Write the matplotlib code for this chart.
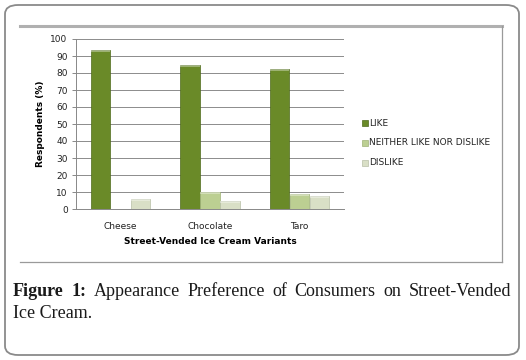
import matplotlib
matplotlib.use("Agg")
import matplotlib.pyplot as plt
import numpy as np
from matplotlib.patches import FancyBboxPatch, Rectangle
from matplotlib.lines import Line2D

categories = ["Cheese", "Chocolate", "Taro"]
series_names = ["LIKE", "NEITHER LIKE NOR DISLIKE", "DISLIKE"]
like = [93.5, 84.7, 82.5]
neither = [0, 10, 8.6]
dislike = [5.7, 4.5, 7.5]
yticks = [0, 10, 20, 30, 40, 50, 60, 70, 80, 90, 100]

W, H = 526, 360
fig = plt.figure(figsize=(W / 100, H / 100), dpi=100)
fig.patch.set_facecolor("white")

def fx(px):
    return px / W

def fy(py):
    return 1 - py / H

# outer rounded border
fig.patches.append(FancyBboxPatch((fx(5), fy(355)), fx(514), 350 / H,
                                  boxstyle="round,pad=0,rounding_size=0.025",
                                  transform=fig.transFigure, fill=False,
                                  edgecolor="#8a8a8a", linewidth=1.3))
# inner chart frame
fig.lines.append(Line2D([fx(20), fx(502)], [fy(26), fy(26)], transform=fig.transFigure,
                        color="#b0b0b0", linewidth=2.2))
fig.lines.append(Line2D([fx(502), fx(502)], [fy(26), fy(262)], transform=fig.transFigure,
                        color="#9a9a9a", linewidth=0.9))
fig.lines.append(Line2D([fx(20), fx(502)], [fy(262), fy(262)], transform=fig.transFigure,
                        color="#9a9a9a", linewidth=0.9))

ax = fig.add_axes([fx(76), fy(209), fx(344) - fx(76), 170 / H])
x = np.arange(len(categories))
bw = 0.224
colors = ["#6a8a28", "#bccf92", "#d9dfc6"]
edges = ["#4f6a1c", "#9fb276", "#b8bfa6"]
for i, (vals, c, e) in enumerate(zip([like, neither, dislike], colors, edges)):
    pos = x + (i - 1) * bw
    ax.bar(pos, vals, width=bw * 0.97, color=c, edgecolor=e, linewidth=0.5,
           zorder=3, label=series_names[i])
    # light cap on top of bars to echo the 3D look
    for p, v in zip(pos, vals):
        if v > 0:
            ax.bar(p, 1.2, bottom=v - 1.2, width=bw * 0.97, color="white", alpha=0.35,
                   linewidth=0, zorder=4)

ax.set_xlim(-0.5, 2.5)
ax.set_ylim(0, 100)
ax.set_yticks(yticks)
ax.set_yticklabels([str(t) for t in yticks], fontsize=6.5, color="#222222")
ax.set_xticks(x)
ax.set_xticklabels(categories, fontsize=6.5, color="#222222")
ax.tick_params(axis="x", length=0, pad=9)
ax.tick_params(axis="y", length=3, width=0.7, color="#888888", pad=3, direction="out")
ax.grid(axis="y", color="#8c8c8c", linewidth=0.7, zorder=0)
for s in ["top", "right"]:
    ax.spines[s].set_visible(False)
ax.spines["left"].set_color("#888888")
ax.spines["bottom"].set_color("#888888")
ax.spines["left"].set_linewidth(0.7)
ax.spines["bottom"].set_linewidth(0.7)
ax.set_xlabel("Street-Vended Ice Cream Variants", fontsize=6.5, fontweight="bold",
              labelpad=5)
ax.set_ylabel("Respondents (%)", fontsize=6.5, fontweight="bold", labelpad=4)

# legend
for i, (name, c, e) in enumerate(zip(series_names, colors, edges)):
    yy = 123 + 20 * i
    fig.patches.append(Rectangle((fx(362), fy(yy + 3)), fx(6), 6 / H, transform=fig.transFigure,
                                 facecolor=c, edgecolor=e, linewidth=0.5))
    fig.text(fx(369), fy(yy), name, fontsize=6.5, va="center", ha="left", color="#222222")

# caption, justified first line
serif = "Liberation Serif"
fs = 13.0
words1 = [("Figure", "bold"), ("1:", "bold"), ("Appearance", "normal"), ("Preference", "normal"),
          ("of", "normal"), ("Consumers", "normal"), ("on", "normal"), ("Street-Vended", "normal")]
fig.canvas.draw()
r = fig.canvas.get_renderer()
texts = []
widths = []
for w, wt in words1:
    t = fig.text(0, fy(291), w, fontsize=fs, family=serif, fontweight=wt, va="center",
                 ha="left", color="#1a1a1a")
    texts.append(t)
    widths.append(t.get_window_extent(r).width)
left, right = 13, 511
gap = (right - left - sum(widths)) / (len(words1) - 1)
gap = max(gap, 3)
xp = left
for t, w in zip(texts, widths):
    t.set_x(fx(xp))
    xp += w + gap
fig.text(fx(13), fy(313), "Ice Cream.", fontsize=fs, family=serif, va="center",
         ha="left", color="#1a1a1a")

fig.savefig("out.png", dpi=100, facecolor="white")
